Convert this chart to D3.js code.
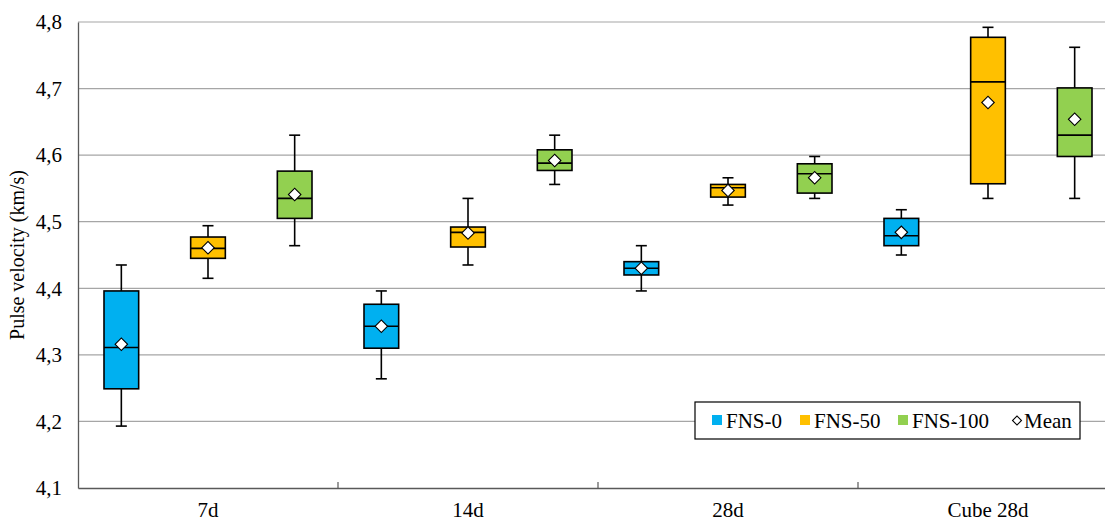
<!DOCTYPE html>
<html>
<head>
<meta charset="utf-8">
<script src="https://cdn.jsdelivr.net/npm/d3@7"></script>
<style>
  html, body { margin: 0; padding: 0; background: #fff; }
  svg { display: block; font-family: "Liberation Serif", "Times New Roman", serif; }
</style>
</head>
<body>
<svg id="chart" width="1105" height="522"></svg>
<script>
// ---- data ----
const categories = ["7d", "14d", "28d", "Cube 28d"];
const seriesNames = ["FNS-0", "FNS-50", "FNS-100"];
const seriesColors = ["#00B0F0", "#FFC000", "#92D050"];
const yTicks = [4.1, 4.2, 4.3, 4.4, 4.5, 4.6, 4.7, 4.8];
const yTickLabels = ["4,1", "4,2", "4,3", "4,4", "4,5", "4,6", "4,7", "4,8"];

// per series: one value per category
const whiskerLow = {
  "FNS-0":   [4.193, 4.264, 4.396, 4.450],
  "FNS-50":  [4.415, 4.435, 4.525, 4.535],
  "FNS-100": [4.464, 4.556, 4.535, 4.535]
};
const q1 = {
  "FNS-0":   [4.249, 4.310, 4.420, 4.464],
  "FNS-50":  [4.445, 4.462, 4.537, 4.557],
  "FNS-100": [4.505, 4.577, 4.543, 4.598]
};
const median = {
  "FNS-0":   [4.311, 4.343, 4.430, 4.479],
  "FNS-50":  [4.460, 4.484, 4.551, 4.710],
  "FNS-100": [4.535, 4.588, 4.572, 4.630]
};
const q3 = {
  "FNS-0":   [4.396, 4.376, 4.440, 4.505],
  "FNS-50":  [4.477, 4.492, 4.556, 4.777],
  "FNS-100": [4.576, 4.608, 4.587, 4.701]
};
const whiskerHigh = {
  "FNS-0":   [4.435, 4.396, 4.464, 4.518],
  "FNS-50":  [4.494, 4.535, 4.566, 4.792],
  "FNS-100": [4.630, 4.630, 4.598, 4.762]
};
const means = {
  "FNS-0":   [4.316, 4.343, 4.430, 4.484],
  "FNS-50":  [4.461, 4.483, 4.547, 4.679],
  "FNS-100": [4.541, 4.592, 4.566, 4.654]
};

// ---- layout ----
const mLeft = 78, mRight = 1118, mTop = 22, mBottom = 488;
const svg = d3.select("#chart");

const x = d3.scaleBand().domain(categories).range([mLeft, mRight]).padding(0);
const xs = d3.scaleBand().domain(seriesNames).range([0, x.bandwidth()])
  .paddingInner(0.6).paddingOuter(0.3);
const y = d3.scaleLinear().domain([4.1, 4.8]).range([mBottom, mTop]);
const color = d3.scaleOrdinal().domain(seriesNames).range(seriesColors);

// gridlines
svg.append("g").selectAll("line").data(yTicks.filter(t => t > 4.1)).join("line")
  .attr("x1", mLeft).attr("x2", mRight)
  .attr("y1", d => y(d)).attr("y2", d => y(d))
  .attr("stroke", "#a6a6a6").attr("stroke-width", 1.2);

// y axis labels
const yAxis = d3.axisLeft(y).tickValues(yTicks)
  .tickFormat((d, i) => yTickLabels[i]).tickSize(0).tickPadding(16);
const gy = svg.append("g").attr("transform", `translate(${mLeft},0)`).call(yAxis);
gy.select(".domain").attr("stroke", "#595959").attr("stroke-width", 1.3);
gy.selectAll("text").attr("font-size", 21).attr("font-family", "Liberation Serif").attr("fill", "#000");

// x axis
const xAxis = d3.axisBottom(x).tickSize(0).tickPadding(14);
const gx = svg.append("g").attr("transform", `translate(0,${mBottom})`).call(xAxis);
gx.select(".domain").attr("stroke", "#595959").attr("stroke-width", 1.3);
gx.selectAll("text").attr("font-size", 21).attr("font-family", "Liberation Serif").attr("fill", "#000");
// category separator ticks (inside)
svg.append("g").selectAll("line").data(categories.slice(1)).join("line")
  .attr("x1", d => x(d)).attr("x2", d => x(d))
  .attr("y1", mBottom).attr("y2", mBottom - 6)
  .attr("stroke", "#595959").attr("stroke-width", 1.2);

// y title
svg.append("text")
  .attr("transform", `translate(24,${(mTop + mBottom) / 2}) rotate(-90)`)
  .attr("text-anchor", "middle")
  .attr("font-size", 20)
  .attr("fill", "#000")
  .text("Pulse velocity (km/s)");

// boxes
const capW = 11;
const boxes = [];
seriesNames.forEach(s => {
  categories.forEach((c, i) => {
    boxes.push({ s, c, lo: whiskerLow[s][i], q1: q1[s][i], med: median[s][i],
      q3: q3[s][i], hi: whiskerHigh[s][i], mean: means[s][i] });
  });
});

const gb = svg.append("g");
boxes.forEach(b => {
  const x0 = x(b.c) + xs(b.s);
  const bw = xs.bandwidth();
  const cx = x0 + bw / 2;
  const g = gb.append("g");
  g.append("line").attr("x1", cx).attr("x2", cx).attr("y1", y(b.hi)).attr("y2", y(b.q3))
    .attr("stroke", "#000").attr("stroke-width", 1.6);
  g.append("line").attr("x1", cx).attr("x2", cx).attr("y1", y(b.q1)).attr("y2", y(b.lo))
    .attr("stroke", "#000").attr("stroke-width", 1.6);
  g.append("line").attr("x1", cx - capW / 2).attr("x2", cx + capW / 2).attr("y1", y(b.hi)).attr("y2", y(b.hi))
    .attr("stroke", "#000").attr("stroke-width", 1.6);
  g.append("line").attr("x1", cx - capW / 2).attr("x2", cx + capW / 2).attr("y1", y(b.lo)).attr("y2", y(b.lo))
    .attr("stroke", "#000").attr("stroke-width", 1.6);
  g.append("rect").attr("x", x0).attr("width", bw)
    .attr("y", y(b.q3)).attr("height", y(b.q1) - y(b.q3))
    .attr("fill", color(b.s)).attr("stroke", "#000").attr("stroke-width", 1.6);
  g.append("line").attr("x1", x0).attr("x2", x0 + bw).attr("y1", y(b.med)).attr("y2", y(b.med))
    .attr("stroke", "#000").attr("stroke-width", 1.6);
  g.append("path")
    .attr("d", d3.symbol(d3.symbolSquare, 78)())
    .attr("transform", `translate(${cx},${y(b.mean)}) rotate(45)`)
    .attr("fill", "#fff").attr("stroke", "#000").attr("stroke-width", 1.1);
});

// legend
const lg = svg.append("g");
lg.append("rect").attr("x", 695).attr("y", 402).attr("width", 385).attr("height", 37)
  .attr("fill", "#fff").attr("stroke", "#000").attr("stroke-width", 1.2);
const legendItems = [
  { name: "FNS-0", x: 712 },
  { name: "FNS-50", x: 800 },
  { name: "FNS-100", x: 898 }
];
legendItems.forEach(it => {
  lg.append("rect").attr("x", it.x).attr("y", 415).attr("width", 10).attr("height", 10)
    .attr("fill", color(it.name));
  lg.append("text").attr("x", it.x + 14).attr("y", 428).attr("font-size", 21)
    .attr("fill", "#000").text(it.name);
});
lg.append("path").attr("d", d3.symbol(d3.symbolSquare, 40)())
  .attr("transform", "translate(1017,420.5) rotate(45)")
  .attr("fill", "#fff").attr("stroke", "#000").attr("stroke-width", 1.1);
lg.append("text").attr("x", 1024).attr("y", 428).attr("font-size", 21).attr("fill", "#000").text("Mean");
</script>
</body>
</html>
